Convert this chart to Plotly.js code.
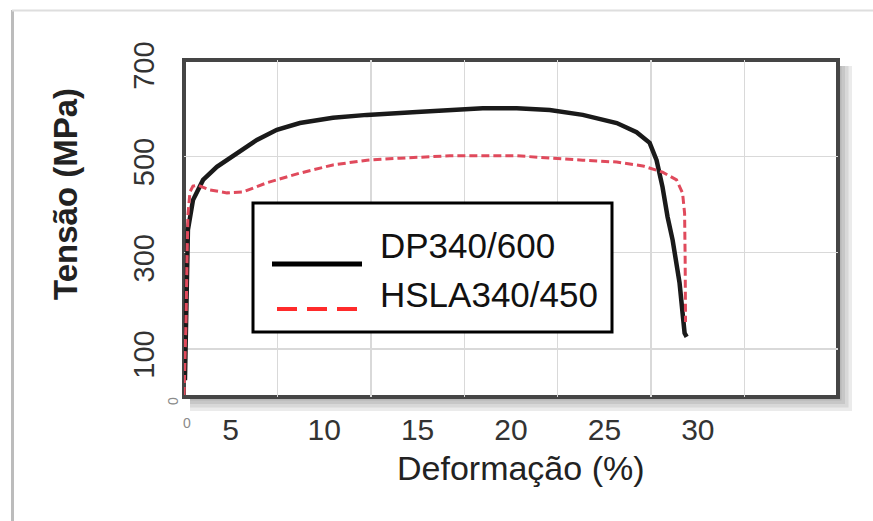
<!DOCTYPE html>
<html>
<head>
<meta charset="utf-8">
<script src="https://cdn.plot.ly/plotly-3.0.1.min.js"></script>
<style>html,body{margin:0;padding:0;background:#fff;}#chart{width:873px;height:521px;}</style>
</head>
<body>
<div id="chart"></div>
<script>
// ---- data ----
const seriesNames = ['DP340/600', 'HSLA340/450'];
const strainDP = [2.55, 2.61, 2.63, 2.66, 2.71, 2.98, 3.52, 4.26, 5.33, 6.40, 7.47, 8.70, 10.47, 12.29, 14.96, 16.72, 18.49, 20.31, 22.07, 23.84, 25.66, 26.72, 27.42, 27.79, 28.11, 28.38, 28.65, 29.02, 29.29, 29.40];
const stressDP = [35, 139, 243, 305, 347, 409, 451, 478, 507, 534, 555, 569, 580, 586, 592, 596, 600, 600, 596, 586, 569, 550, 528, 492, 436, 374, 326, 237, 133, 125];
const strainHSLA = [2.50, 2.55, 2.61, 2.66, 2.71, 2.82, 2.98, 3.25, 3.89, 4.80, 5.66, 6.94, 8.70, 10.47, 12.29, 14.05, 16.72, 20.31, 22.07, 23.84, 25.66, 27.05, 28.11, 28.86, 29.18, 29.29, 29.32, 29.34];
const stressHSLA = [4, 56, 160, 285, 378, 426, 438, 440, 430, 424, 426, 445, 465, 482, 492, 496, 501, 501, 496, 492, 488, 480, 467, 451, 424, 382, 285, 156];
const xTickVals = [5, 10, 15, 20, 25, 30];
const xTickText = ['5', '10', '15', '20', '25', '30'];
const yTickVals = [100, 300, 500, 700];
const yTickText = ['100', '300', '500', '700'];
const xTitle = 'Deformação (%)';
const yTitle = 'Tensão (MPa)';

// ---- layout helpers (pixel -> paper) ----
const L = 184, R = 838, T = 60, B = 397;
const W = R - L, H = B - T;
const fx = p => (p - L) / W;
const fy = p => (B - p) / H;
const FONT = 'Liberation Sans, Arial, sans-serif';

const traces = [
  {x: strainDP, y: stressDP, name: seriesNames[0], type: 'scatter', mode: 'lines',
   line: {color: '#1a1a1a', width: 4.5}, xaxis: 'x', yaxis: 'y'},
  {x: strainHSLA, y: stressHSLA, name: seriesNames[1], type: 'scatter', mode: 'lines',
   line: {color: '#e04a5c', width: 3, dash: '8px,4px'}, xaxis: 'x', yaxis: 'y'},
  // invisible trace on overlay axis to carry the grid lines
  {x: [2.5, 37.5], y: [0, 0], mode: 'none', type: 'scatter', hoverinfo: 'skip',
   xaxis: 'x2', yaxis: 'y', showlegend: false}
];

const shapes = [];
// drop shadow of the plot frame (right and bottom)
for (let i = 1; i <= 4; i++) {
  shapes.push({type: 'rect', xref: 'paper', yref: 'paper', layer: 'below',
    x0: fx(R), x1: fx(R + 3.5 * i), y0: fy(B + 3.5 * i), y1: fy(T + 6),
    line: {width: 0}, fillcolor: 'rgba(0,0,0,0.08)'});
  shapes.push({type: 'rect', xref: 'paper', yref: 'paper', layer: 'below',
    x0: fx(L + 6), x1: fx(R), y0: fy(B + 3.5 * i), y1: fy(B),
    line: {width: 0}, fillcolor: 'rgba(0,0,0,0.08)'});
}
// plot frame
shapes.push({type: 'rect', xref: 'paper', yref: 'paper', layer: 'between',
  x0: 0, x1: 1, y0: 0, y1: 1, line: {color: '#454545', width: 4}});
// outer picture frame
shapes.push({type: 'line', xref: 'paper', yref: 'paper', x0: fx(12.5), x1: fx(12.5), y0: fy(10), y1: fy(521),
  line: {color: '#bcbcbc', width: 3}});
shapes.push({type: 'line', xref: 'paper', yref: 'paper', x0: fx(12), x1: fx(873), y0: fy(10.5), y1: fy(10.5),
  line: {color: '#dedede', width: 2}});
// legend box and samples
shapes.push({type: 'rect', xref: 'paper', yref: 'paper', layer: 'above',
  x0: fx(253), x1: fx(612), y0: fy(332), y1: fy(203), fillcolor: '#ffffff', line: {color: '#000', width: 3}});
shapes.push({type: 'line', xref: 'paper', yref: 'paper', layer: 'above',
  x0: fx(272), x1: fx(362), y0: fy(264), y1: fy(264), line: {color: '#000', width: 5}});
shapes.push({type: 'line', xref: 'paper', yref: 'paper', layer: 'above',
  x0: fx(277), x1: fx(358), y0: fy(309), y1: fy(309), line: {color: '#ff2b2b', width: 4, dash: '20px,10px'}});

const annotations = [
  {xref: 'paper', yref: 'paper', x: fx(378), y: fy(245), xanchor: 'left', yanchor: 'middle', showarrow: false,
   text: seriesNames[0], font: {family: FONT, size: 35, color: '#111'}},
  {xref: 'paper', yref: 'paper', x: fx(378), y: fy(294), xanchor: 'left', yanchor: 'middle', showarrow: false,
   text: seriesNames[1], font: {family: FONT, size: 35, color: '#111'}},
  // y axis title
  {xref: 'paper', yref: 'paper', x: fx(65), y: fy(194), xanchor: 'center', yanchor: 'middle', showarrow: false,
   text: '<b>' + yTitle + '</b>', textangle: -90, font: {family: FONT, size: 33, color: '#222'}},
  // x axis title
  {xref: 'paper', yref: 'paper', x: fx(521), y: fy(468), xanchor: 'center', yanchor: 'middle', showarrow: false,
   text: xTitle, font: {family: FONT, size: 34, color: '#222'}},
  // small leftover zero labels at the origin
  {xref: 'paper', yref: 'paper', x: fx(173), y: fy(401), xanchor: 'center', yanchor: 'middle', showarrow: false,
   text: '0', textangle: -90, font: {family: FONT, size: 14, color: '#8a8a8a'}},
  {xref: 'paper', yref: 'paper', x: fx(187), y: fy(423), xanchor: 'center', yanchor: 'middle', showarrow: false,
   text: '0', font: {family: FONT, size: 14, color: '#8a8a8a'}}
];

const layout = {
  width: 873, height: 521,
  margin: {l: L, r: 873 - R, t: T, b: 521 - B, pad: 0},
  paper_bgcolor: '#ffffff', plot_bgcolor: '#ffffff',
  showlegend: false,
  font: {family: FONT, color: '#333'},
  xaxis: {range: [2.5, 37.5], tickvals: xTickVals, ticktext: xTickText, showgrid: false, zeroline: false,
    ticks: '', showline: false, automargin: false, ticklabelstandoff: 12,
    tickfont: {family: FONT, size: 30, color: '#333'}},
  xaxis2: {range: [2.5, 37.5], overlaying: 'x', tick0: 2.5, dtick: 5, showgrid: true, gridcolor: '#d9d9d9',
    gridwidth: 1.5, showticklabels: false, ticks: '', zeroline: false, showline: false, automargin: false},
  yaxis: {range: [0, 700], dtick: 100, tick0: 0, showgrid: true, gridcolor: '#d9d9d9', gridwidth: 1.5,
    zeroline: false, ticks: '', showline: false, automargin: false,
    tickmode: 'array', tickvals: yTickVals, ticktext: yTickText, tickangle: -90,
    ticklabelshift: 10, ticklabelstandoff: 23,
    tickfont: {family: FONT, size: 29, color: '#333'}},
  shapes: shapes,
  annotations: annotations
};

Plotly.newPlot('chart', traces, layout, {staticPlot: true, displayModeBar: false});
</script>
</body>
</html>
